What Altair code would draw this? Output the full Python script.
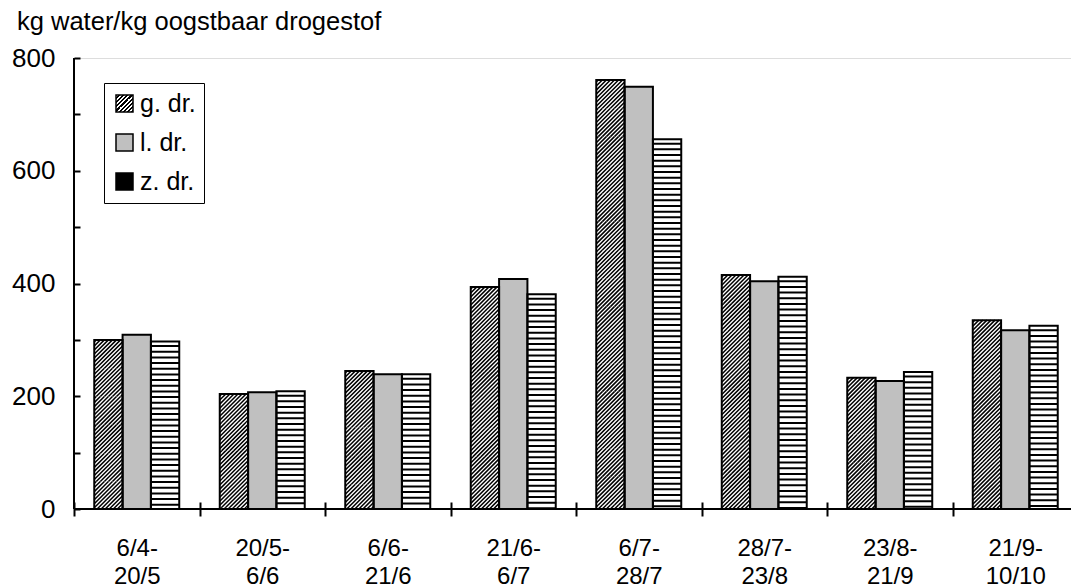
import json

import altair as alt
import pandas as pd

# Water use per harvested dry matter, per growth period and drought treatment
periods = ["6/4-20/5", "20/5-6/6", "6/6-21/6", "21/6-6/7",
           "6/7-28/7", "28/7-23/8", "23/8-21/9", "21/9-10/10"]
series = ["g. dr.", "l. dr.", "z. dr."]
g_dr = [300, 204, 245, 394, 761, 415, 233, 335]
l_dr = [309, 207, 239, 408, 749, 404, 227, 317]
z_dr = [297, 209, 239, 381, 656, 412, 243, 325]
y_ticks = list(range(0, 801, 100))
Y_MAX = 800

rows = []
for i, p in enumerate(periods):
    for s, vals in zip(series, (g_dr, l_dr, z_dr)):
        rows.append({"period": p, "series": s, "value": vals[i]})
df = pd.DataFrame(rows)

# layout of the plot area (pixels)
PLOT_W, PLOT_H = 997, 451
BAND_RANGE = 1004            # eight period bands; the last one runs past the edge
OUTER = 0.715                # gap on each side of a group of three bars
bar_w = BAND_RANGE / len(periods) / (len(series) + 2 * OUTER)
tile = bar_w * Y_MAX / PLOT_H   # a square pattern tile, in data units


def fmt(v):
    return f"{v:.4f}"


# 45 degree hatch inside a [-1, 1] square tile; 14 lines repeat cleanly tile to tile
step = 4 / 14
hatch_path = []
for j in range(14):
    c = -2 + (j + 0.5) * step
    if c < 0:
        hatch_path.append(f"M-1,{fmt(c + 1)}L{fmt(c + 1)},-1")
    else:
        hatch_path.append(f"M{fmt(c - 1)},1L1,{fmt(c - 1)}")
hatch_path = "".join(hatch_path)

# five horizontal bands per tile
band_path = "".join(
    f"M-1,{fmt(-1 + 0.318 + k * 0.4)}L1,{fmt(-1 + 0.318 + k * 0.4)}" for k in range(5)
)

# hatch for the legend square
swatch = {"gradient": "linear", "x1": 0, "y1": 0, "x2": 1, "y2": 1, "stops": []}
for i in range(8):
    a, b, c = i / 8, (i + 0.5) / 8, (i + 1) / 8
    swatch["stops"] += [{"offset": a, "color": "white"}, {"offset": b, "color": "white"},
                        {"offset": b, "color": "black"}, {"offset": c, "color": "black"}]

FONT = "Liberation Sans"

x_axis = alt.Axis(
    title=None, labelAngle=0, tickBand="extent", domain=False,
    tickSize=14, offset=-7, tickWidth=2, tickColor="black",
    labelExpr="datum.label ? [split(datum.label, '-')[0] + '-', split(datum.label, '-')[1]] : ''",
    labelFont=FONT, labelFontSize=24, labelColor="black",
    labelPadding=20, labelLineHeight=28, labelBaseline="top", grid=False,
)
y_axis = alt.Axis(
    title=None, values=y_ticks, labelExpr="datum.value % 200 == 0 ? datum.label : ''",
    domain=False, offset=-6, tickSize=6, tickWidth=2, tickColor="black",
    labelFont=FONT, labelFontSize=26, labelColor="black", labelPadding=19, grid=False,
)

x_enc = alt.X("period:N", sort=periods, axis=x_axis,
              scale=alt.Scale(range=[0, BAND_RANGE], paddingInner=0, paddingOuter=0))
x_off = alt.XOffset("series:N", sort=series,
                    scale=alt.Scale(domain=series, paddingInner=0, paddingOuter=OUTER))
y_scale = alt.Scale(domain=[0, Y_MAX], nice=False, zero=True)
y_enc = alt.Y("value:Q", scale=y_scale, axis=y_axis)

legend = alt.Legend(
    title=None, orient="none", legendX=30, legendY=25,
    symbolType="square", symbolSize=289, symbolStrokeColor="black", symbolStrokeWidth=1.5,
    labelFont=FONT, labelFontSize=25, labelColor="black", labelOffset=3,
    padding=8, rowPadding=13, strokeColor="black", fillColor="white",
)

# bars coloured by treatment; this layer also carries the legend
base = alt.Chart(df).mark_bar(strokeWidth=0).encode(
    x=x_enc, xOffset=x_off, y=y_enc,
    fill=alt.Fill("series:N", legend=legend, scale=alt.Scale(
        domain=series,
        range=[alt.ExprRef(expr=json.dumps(swatch)), "#c0c0c0", "black"])),
)

# white ground under the patterned bars
ground = alt.Chart(df).transform_filter(
    alt.datum.series != "l. dr."
).mark_bar(fill="white", strokeWidth=0).encode(x=x_enc, xOffset=x_off, y=y_enc)


def pattern_layer(name, path, width):
    """Square pattern tiles stacked down from each bar top, clipped at the axis."""
    return alt.Chart(df).transform_filter(
        alt.datum.series == name
    ).transform_calculate(
        tile=f"sequence(0, ceil(datum.value / {tile}))"
    ).transform_flatten(["tile"]).transform_calculate(
        yc=f"datum.value - (datum.tile + 0.5) * {tile}"
    ).mark_point(
        shape=path, size=bar_w ** 2, filled=False, stroke="black",
        strokeWidth=width, opacity=1, clip=True,
    ).encode(
        x=x_enc, xOffset=x_off,
        y=alt.Y("yc:Q", scale=y_scale, axis=y_axis),
    )


hatch = pattern_layer("g. dr.", hatch_path, 1.5)
bands = pattern_layer("z. dr.", band_path, 2)

outline = alt.Chart(df).mark_bar(fillOpacity=0, stroke="black", strokeWidth=2).encode(
    x=x_enc, xOffset=x_off, y=y_enc,
)

one = pd.DataFrame({"n": [0]})
y_line = alt.Chart(one).mark_rule(color="black", strokeWidth=2).encode(
    x=alt.value(0),
    y=alt.Y(datum=0, scale=y_scale, axis=y_axis),
    y2=alt.Y2(datum=Y_MAX),
)
x_line = alt.Chart(one).mark_rule(color="black", strokeWidth=2).encode(
    y=alt.Y(datum=0, scale=y_scale, axis=y_axis),
)

chart = alt.layer(base, ground, hatch, bands, outline, x_line, y_line).properties(
    width=PLOT_W, height=PLOT_H,
    title=alt.TitleParams(
        "kg water/kg oogstbaar drogestof", anchor="start", frame="group", dx=-57,
        font=FONT, fontSize=25.5, fontWeight="normal", color="black", offset=10,
    ),
    autosize=alt.AutoSizeParams(type="none"),
    padding={"left": 74, "top": 58, "right": 0, "bottom": 78},
).configure_view(stroke=None).configure(background="white")

chart.save("out.html", embed_options={"renderer": "svg", "actions": False})
